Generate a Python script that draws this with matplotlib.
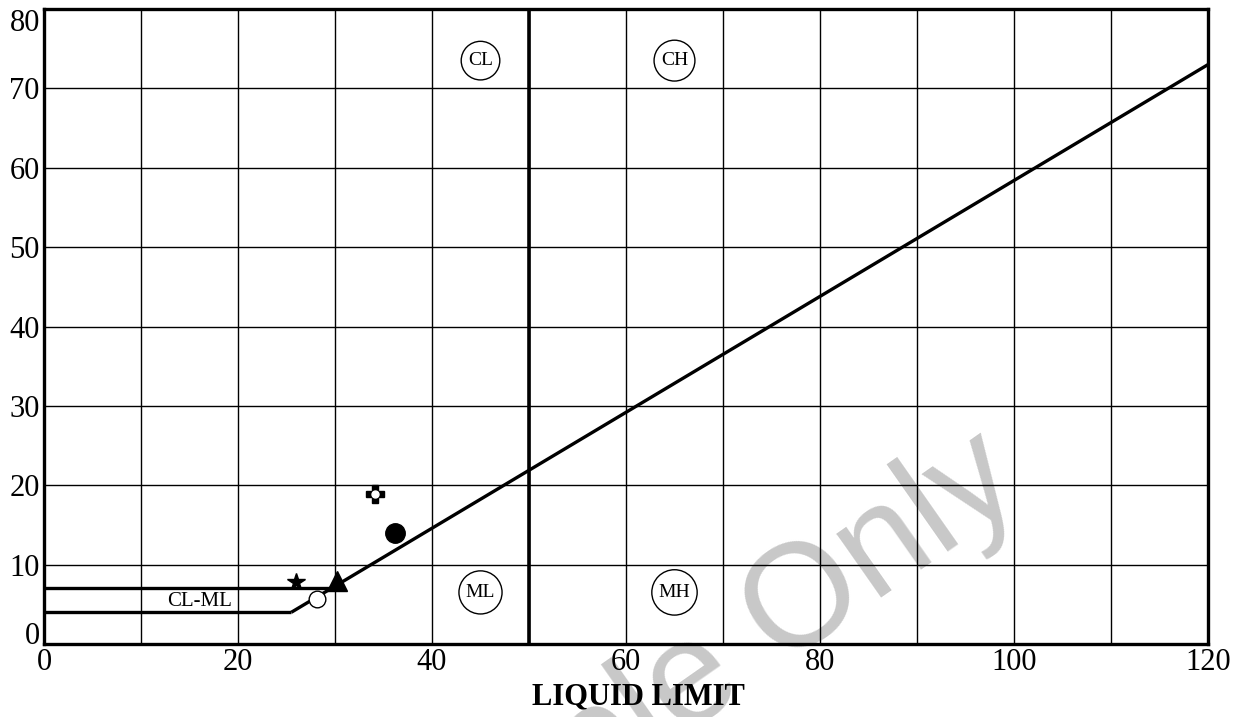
import matplotlib
matplotlib.use('Agg')
import matplotlib.pyplot as plt

plt.rcParams['font.family'] = ['Liberation Serif', 'DejaVu Serif']

# Boundary lines of the plasticity chart
a_line_ll = [25.5, 120]
a_line_pi = [4, 73]
clml_top_ll = [0, 29.6]
clml_top_pi = [7, 7]
clml_bottom_ll = [0, 25.5]
clml_bottom_pi = [4, 4]
ll_50_ll = [50, 50]
ll_50_pi = [0, 80]

# Test samples (liquid limit, plasticity index)
star_ll, star_pi = [26], [7.8]
open_ll, open_pi = [28.1], [5.7]
tri_ll, tri_pi = [30.2], [7.9]
cross_ll, cross_pi = [34.1], [18.9]
dot_ll, dot_pi = [36.2], [14.0]

# Zone labels
zone_names = ['CL', 'CH', 'ML', 'MH']
zone_ll = [45, 65, 45, 65]
zone_pi = [73.5, 73.5, 6.5, 6.5]

x_ticks = [0, 20, 40, 60, 80, 100, 120]
y_ticks = [0, 10, 20, 30, 40, 50, 60, 70, 80]

fig = plt.figure(figsize=(12.47, 7.17), dpi=100)
fig.patch.set_facecolor('white')
ax = fig.add_axes([0.0353, 0.1018, 0.9334, 0.8856])
ax.set_facecolor('none')

ax.set_xlim(0, 120)
ax.set_ylim(0, 80)
ax.set_xticks(x_ticks)
ax.set_xticks(range(0, 121, 10), minor=True)
ax.set_yticks(y_ticks)
ax.tick_params(which='both', length=0, labelsize=22, pad=3)
ax.grid(True, which='both', color='black', linewidth=1.0)
ax.set_axisbelow(True)
for sp in ax.spines.values():
    sp.set_linewidth(2.4)

# keep the end labels of the y axis inside the frame height
ylabels = ax.get_yticklabels()
ylabels[0].set_va('baseline')
ylabels[-1].set_va('top')

ax.plot(a_line_ll, a_line_pi, color='black', linewidth=2.4, solid_capstyle='butt')
ax.plot(clml_top_ll, clml_top_pi, color='black', linewidth=2.4, solid_capstyle='butt')
ax.plot(clml_bottom_ll, clml_bottom_pi, color='black', linewidth=2.4, solid_capstyle='butt')
ax.plot(ll_50_ll, ll_50_pi, color='black', linewidth=2.6)

ax.plot(star_ll, star_pi, linestyle='none', marker='*', color='black', markersize=13)
ax.plot(open_ll, open_pi, linestyle='none', marker='o', markerfacecolor='white',
        markeredgecolor='black', markeredgewidth=1.0, markersize=12)
ax.plot(tri_ll, tri_pi, linestyle='none', marker='^', color='black', markersize=15)
ax.plot(cross_ll, cross_pi, linestyle='none', marker='P', color='black', markersize=13)
ax.plot(cross_ll, cross_pi, linestyle='none', marker='o', color='white', markersize=5)
ax.plot(dot_ll, dot_pi, linestyle='none', marker='o', color='black', markersize=14)

for name, x, y in zip(zone_names, zone_ll, zone_pi):
    ax.text(x, y, name, fontsize=14, ha='center', va='center',
            bbox=dict(boxstyle='circle,pad=0.35', facecolor='white', edgecolor='black', linewidth=1))

ax.text(16, 5.3, 'CL-ML', fontsize=15, ha='center', va='center')

ax.set_xlabel('LIQUID LIMIT', fontsize=22, fontweight='bold')
ax.xaxis.set_label_coords(0.511, -0.06)

# Watermark, drawn underneath the chart
fig.text(0.531, 0.0167, 'Sample Only', family='Liberation Sans', fontsize=105,
         color='#c8c8c8', rotation=35, rotation_mode='anchor',
         ha='center', va='center', zorder=-1)

plt.savefig('out.png', dpi=100, facecolor='white')
plt.close()
